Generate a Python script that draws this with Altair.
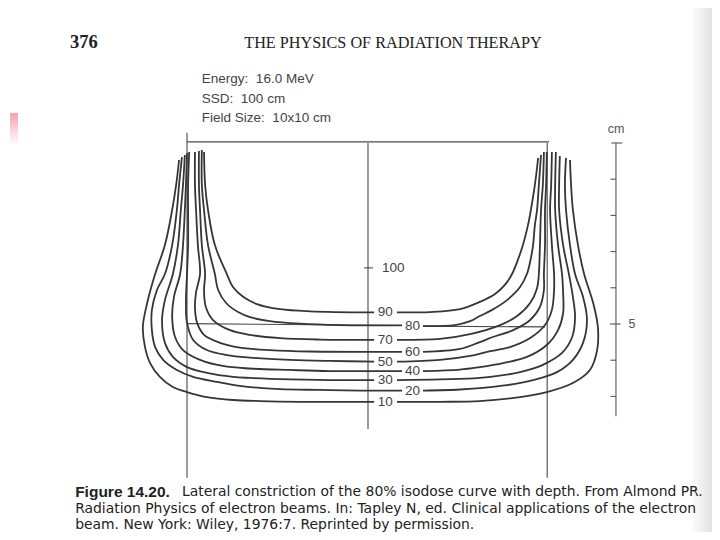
import altair as alt
import pandas as pd

# ---------------- data (lateral position cm, depth cm) ----------------
L10 = [(-5.22,0.47),(-5.30,1.16),(-5.41,1.85),(-5.61,2.82),(-5.88,3.62),(-6.10,4.42),(-6.22,5.08),(-6.16,5.64),(-6.02,6.08),(-5.75,6.46),(-5.39,6.74),(-5.00,6.88),(-4.45,7.02),(-3.73,7.10),(-2.98,7.13),(-1.88,7.15),(-0.77,7.15),(0.17,7.15)]
R10 = [(0.80,7.15),(1.99,7.15),(3.09,7.13),(4.20,7.02),(4.94,6.88),(5.66,6.63),(6.13,6.27),(6.33,5.72),(6.35,5.08),(6.22,4.42),(5.97,3.62),(5.80,2.82),(5.66,1.85),(5.61,1.16),(5.58,0.47)]
L20 = [(-5.14,0.39),(-5.22,1.16),(-5.28,1.85),(-5.41,2.82),(-5.61,3.62),(-5.83,4.06),(-5.97,4.61),(-5.97,5.17),(-5.88,5.64),(-5.66,5.99),(-5.28,6.27),(-4.83,6.46),(-4.17,6.60),(-3.54,6.71),(-2.43,6.80),(-1.33,6.82),(-0.22,6.84),(0.94,6.84)]
R20 = [(1.52,6.84),(2.54,6.81),(3.09,6.77),(3.84,6.69),(4.56,6.55),(5.22,6.33),(5.66,5.99),(5.94,5.52),(6.05,4.89),(5.94,4.25),(5.72,3.62),(5.58,2.82),(5.47,1.85),(5.44,1.16),(5.47,0.41)]
L30 = [(-5.06,0.33),(-5.11,1.16),(-5.17,1.85),(-5.25,2.82),(-5.39,3.62),(-5.61,4.34),(-5.69,4.89),(-5.61,5.52),(-5.39,5.91),(-5.00,6.19),(-4.45,6.35),(-3.73,6.46),(-3.26,6.49),(-2.15,6.53),(-1.05,6.55),(0.17,6.55)]
R30 = [(0.80,6.55),(1.99,6.53),(3.09,6.49),(4.20,6.33),(4.83,6.13),(5.36,5.80),(5.64,5.36),(5.72,4.81),(5.66,4.25),(5.55,3.62),(5.39,2.82),(5.28,1.85),(5.28,1.16),(5.30,0.36)]
L40 = [(-5.00,0.28),(-5.03,1.16),(-5.06,1.85),(-5.11,2.82),(-5.19,3.62),(-5.36,4.25),(-5.41,4.81),(-5.33,5.36),(-5.11,5.72),(-4.64,5.99),(-4.01,6.16),(-3.26,6.23),(-2.15,6.27),(-1.05,6.30),(0.94,6.30)]
R40 = [(1.52,6.30),(2.54,6.26),(3.09,6.19),(3.73,6.08),(4.39,5.91),(4.94,5.58),(5.25,5.17),(5.39,4.70),(5.39,4.14),(5.36,3.62),(5.25,2.82),(5.17,1.85),(5.17,1.16),(5.19,0.25)]
L50 = [(-4.94,0.25),(-4.97,1.16),(-4.97,1.85),(-4.97,2.82),(-5.00,3.62),(-5.03,4.42),(-5.00,4.97),(-4.83,5.44),(-4.45,5.72),(-3.90,5.86),(-3.26,5.93),(-2.15,5.99),(-1.05,6.02),(0.17,6.04)]
R50 = [(0.80,6.04),(1.99,5.99),(2.82,5.88),(3.29,5.77),(3.92,5.64),(4.48,5.39),(4.89,5.03),(5.08,4.61),(5.14,4.06),(5.14,3.62),(5.08,2.82),(5.03,1.85),(5.06,1.16),(5.08,0.25)]
L60 = [(-4.78,0.25),(-4.78,1.16),(-4.75,1.85),(-4.70,2.82),(-4.64,3.62),(-4.75,4.12),(-4.78,4.56),(-4.72,4.97),(-4.53,5.30),(-4.09,5.52),(-3.54,5.65),(-2.71,5.72),(-1.60,5.76),(0.94,5.77)]
R60 = [(1.52,5.77),(2.54,5.69),(3.09,5.50),(3.45,5.36),(4.01,5.17),(4.48,4.89),(4.75,4.53),(4.86,4.06),(4.86,3.62),(4.89,2.82),(4.89,1.85),(4.92,1.16),(4.94,0.25)]
L70 = [(-4.67,0.22),(-4.67,1.16),(-4.64,1.85),(-4.59,2.82),(-4.50,3.62),(-4.53,4.06),(-4.48,4.53),(-4.28,4.89),(-3.81,5.17),(-3.26,5.30),(-2.43,5.39),(-1.33,5.43),(0.17,5.44)]
R70 = [(0.80,5.44),(1.99,5.41),(2.82,5.28),(3.65,5.03),(4.12,4.78),(4.48,4.42),(4.67,4.01),(4.72,3.62),(4.75,2.82),(4.78,1.85),(4.83,1.16),(4.86,0.25)]
L80 = [(-4.59,0.19),(-4.59,1.16),(-4.53,1.85),(-4.42,2.82),(-4.23,3.62),(-4.14,4.06),(-3.92,4.42),(-3.59,4.67),(-3.26,4.81),(-2.71,4.92),(-1.88,4.99),(-0.77,5.03),(0.94,5.04)]
R80 = [(1.52,5.06),(2.40,5.03),(2.82,4.92),(3.09,4.78),(3.43,4.61),(3.84,4.34),(4.20,3.98),(4.39,3.62),(4.50,3.18),(4.56,2.82),(4.61,2.27),(4.67,1.85),(4.72,1.16),(4.78,0.33)]
L90 = [(-4.53,0.25),(-4.50,1.16),(-4.42,1.85),(-4.23,2.82),(-3.90,3.62),(-3.73,3.98),(-3.45,4.25),(-3.07,4.45),(-2.43,4.59),(-1.60,4.65),(0.17,4.68)]
R90 = [(0.80,4.68),(1.71,4.67),(2.54,4.59),(3.09,4.39),(3.51,4.17),(3.78,3.92),(3.98,3.62),(4.14,3.23),(4.28,2.82),(4.42,2.27),(4.50,1.85),(4.61,1.16),(4.70,0.41)]

levels = [10, 20, 30, 40, 50, 60, 70, 80, 90]
left_branches = [L10, L20, L30, L40, L50, L60, L70, L80, L90]
right_branches = [R10, R20, R30, R40, R50, R60, R70, R80, R90]

# isodose labels on the central axis
label_text = ["90", "80", "70", "60", "50", "40", "30", "20", "10"]
label_x = [0.48, 1.23, 0.48, 1.23, 0.48, 1.23, 0.48, 1.23, 0.48]
label_depth = [4.68, 5.06, 5.44, 5.77, 6.04, 6.30, 6.55, 6.84, 7.15]

# straight reference lines: (x, depth, x2, depth2)
ref_lines = [
    (-5.00, -0.03, 5.00, -0.03),   # surface / field width
    (-5.00, -0.28, -5.00, 9.25),   # left field edge
    (4.95, 0.00, 4.95, 9.25),      # right field edge
    (0.00, 0.00, 0.00, 7.90),      # central axis
    (-5.00, 4.99, 0.94, 5.04),     # 80% lateral constriction line (left of label)
    (1.52, 5.06, 4.89, 5.08),      # 80% lateral constriction line (right of label)
    (-0.11, 3.45, 0.14, 3.45),     # 100 mark
]

# depth scale (cm)
scale_x = 6.85
scale_len = 7.55
scale_ticks = [0, 1, 2, 3, 4, 5, 6, 7]
scale_tick_left = [6.72, 6.70, 6.70, 6.70, 6.70, 6.68, 6.70, 6.70]
scale_tick_right = [7.02, 6.85, 6.85, 6.85, 6.85, 6.98, 6.85, 6.85]

NB = "\u00a0"
header_num = "376"
header_title = "THE PHYSICS OF RADIATION THERAPY"
info_lines = [f"Energy:{NB}{NB}16.0 MeV", f"SSD:{NB}{NB}100 cm", f"Field Size:{NB}{NB}10x10 cm"]
caption_bold = "Figure 14.20."
caption_lines = [
    "Lateral constriction of the 80% isodose curve with depth. From Almond PR.",
    "Radiation Physics of electron beams. In: Tapley N, ed. Clinical applications of the electron",
    "beam. New York: Wiley, 1976:7. Reprinted by permission.",
]

# ---------------- build tables ----------------
rows = []
for lvl, lb, rb in zip(levels, left_branches, right_branches):
    for side, pts in (("L", lb), ("R", rb)):
        for i, (x, d) in enumerate(pts):
            rows.append({"seg": f"{lvl}{side}", "i": i, "x": x, "d": d})
curves_df = pd.DataFrame(rows)

rules_df = pd.DataFrame(ref_lines, columns=["x", "d", "x2", "d2"])
labels_df = pd.DataFrame({"x": label_x, "d": label_depth, "t": label_text})

scale_line_df = pd.DataFrame({"x": [scale_x], "d": [0.0], "x2": [scale_x], "d2": [scale_len]})
ticks_df = pd.DataFrame({"x": scale_tick_left, "x2": scale_tick_right, "d": scale_ticks})

X_DOMAIN = [-9.945, 9.503]
Y_DOMAIN = [-3.729, 10.746]
xs = alt.Scale(domain=X_DOMAIN, nice=False, zero=False)
ys = alt.Scale(domain=Y_DOMAIN, nice=False, zero=False, reverse=True)


def ex(f="x"):
    return alt.X(f"{f}:Q", scale=xs, axis=None)


def ey(f="d"):
    return alt.Y(f"{f}:Q", scale=ys, axis=None)


def txt(df, **kw):
    return alt.Chart(df).mark_text(baseline="middle", **kw).encode(x=ex(), y=ey(), text="t:N")


curves = alt.Chart(curves_df).mark_line(
    color="#363636", strokeWidth=1.8, interpolate="catmull-rom"
).encode(x=ex(), y=ey(), detail="seg:N", order="i:Q")

rules = alt.Chart(rules_df).mark_rule(color="#4a4a4a", strokeWidth=1.1).encode(
    x=ex(), y=ey(), x2="x2:Q", y2="d2:Q"
)

labels = txt(labels_df, font="Liberation Sans", fontSize=13.5, color="#444", align="center")
hundred = txt(pd.DataFrame({"x": [0.70], "d": [3.45], "t": ["100"]}),
              font="Liberation Sans", fontSize=13.5, color="#444", align="center")

scale_line = alt.Chart(scale_line_df).mark_rule(color="#555", strokeWidth=1.1).encode(
    x=ex(), y=ey(), x2="x2:Q", y2="d2:Q"
)
scale_ticks_layer = alt.Chart(ticks_df).mark_rule(color="#555", strokeWidth=1.1).encode(
    x=ex(), x2="x2:Q", y=ey()
)
scale_text = txt(pd.DataFrame({"x": [6.85, 7.29], "d": [-0.39, 5.0], "t": ["cm", "5"]}),
                 font="Liberation Sans", fontSize=12.5, color="#555", align="center")

head_num = txt(pd.DataFrame({"x": [-8.23], "d": [-2.79], "t": [header_num]}),
               font="Liberation Serif", fontSize=18.5, fontWeight="bold", color="#222", align="left")
head_title = txt(pd.DataFrame({"x": [0.69], "d": [-2.76], "t": [header_title]}),
                 font="Liberation Serif", fontSize=16.2, color="#222", align="center")

info = txt(pd.DataFrame({"x": [-4.59] * 3, "d": [-1.77, -1.22, -0.69], "t": info_lines}),
           font="Liberation Sans", fontSize=13.5, color="#444", align="left")

cap_b = txt(pd.DataFrame({"x": [-8.09], "d": [9.65], "t": [caption_bold]}),
            font="Liberation Sans", fontSize=15.5, fontWeight="bold", color="#222", align="left")
cap = txt(pd.DataFrame({"x": [-5.14, -8.09, -8.09], "d": [9.65, 10.10, 10.54], "t": caption_lines}),
          font="DejaVu Sans", fontSize=13.9, color="#222", align="left")

pink = alt.Chart(pd.DataFrame({"x": [-9.89], "x2": [-9.67], "d": [-0.83], "d2": [0.06]})).mark_rect(
    color=alt.Gradient(
        gradient="linear",
        stops=[alt.GradientStop(color="#f5a3ad", offset=0), alt.GradientStop(color="#ffffff", offset=1)],
        x1=0, x2=0, y1=0, y2=1,
    )
).encode(x=ex(), x2="x2:Q", y=ey(), y2="d2:Q")

shadow = alt.Chart(pd.DataFrame({"x": [8.90], "x2": [9.503], "d": [-3.729], "d2": [10.746]})).mark_rect(
    color=alt.Gradient(
        gradient="linear",
        stops=[alt.GradientStop(color="#ffffff", offset=0), alt.GradientStop(color="#e2e2e2", offset=1)],
        x1=0, x2=1, y1=0, y2=0,
    )
).encode(x=ex(), x2="x2:Q", y=ey(), y2="d2:Q")

chart = alt.layer(
    shadow, pink, rules, scale_line, scale_ticks_layer, curves, labels, hundred, scale_text,
    head_num, head_title, info, cap_b, cap,
).properties(
    width=704, height=524, padding=0, autosize=alt.AutoSizeParams(type="none"),
    background="white",
).configure_view(stroke=None)

chart.save("out.html", embed_options={"renderer": "svg", "actions": False})
